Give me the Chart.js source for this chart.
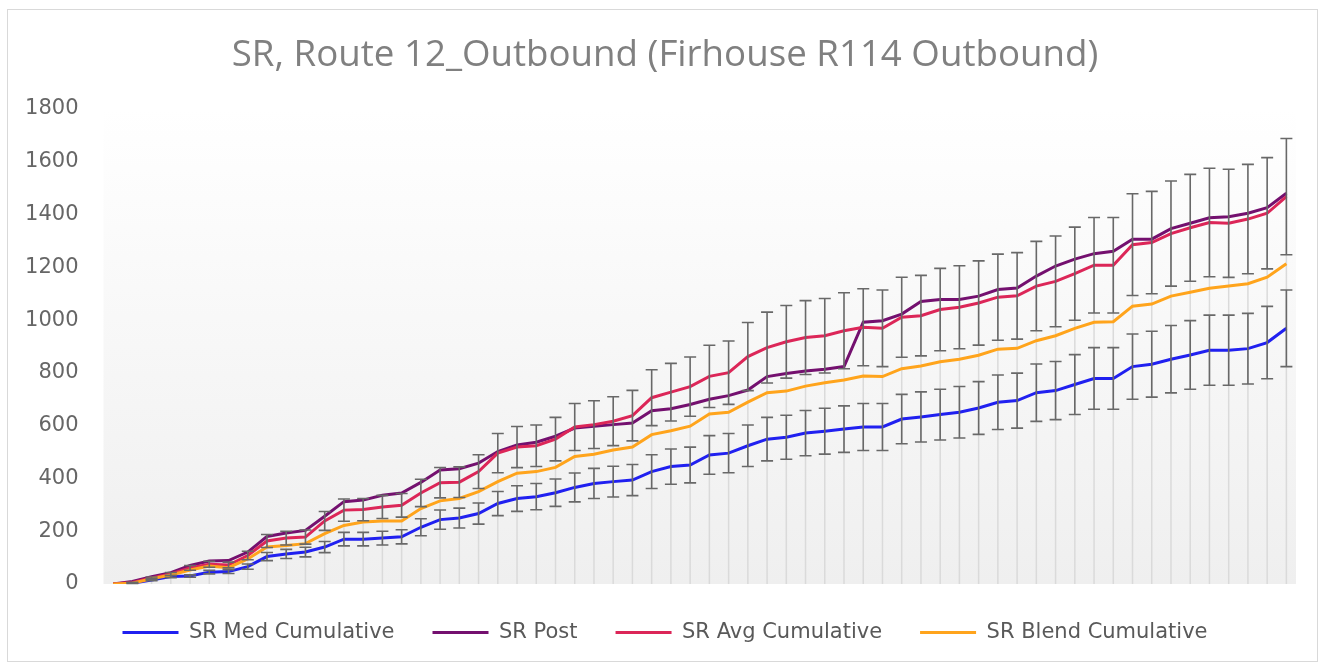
<!DOCTYPE html>
<html>
<head>
<meta charset="utf-8">
<title>SR, Route 12_Outbound</title>
<script src="https://cdn.jsdelivr.net/npm/chart.js@4.4.1/dist/chart.umd.min.js"></script>
<style>
  html, body { margin: 0; padding: 0; background: #fff; }
  #wrap { position: relative; width: 1330px; height: 668px; }
  #frame {
    position: absolute; left: 7px; top: 9px; width: 1311px; height: 653px;
    border: 1px solid #d9d9d9; box-sizing: border-box; pointer-events: none;
  }
</style>
</head>
<body>
<div id="wrap">
  <canvas id="chart" width="1330" height="668"></canvas>
  <div id="frame"></div>
</div>
<script>
// stops along the route (no labels shown on the axis)
const stops = [1, 2, 3, 4, 5, 6, 7, 8, 9, 10, 11, 12, 13, 14, 15, 16, 17, 18, 19, 20,
  21, 22, 23, 24, 25, 26, 27, 28, 29, 30, 31, 32, 33, 34, 35, 36, 37, 38, 39, 40,
  41, 42, 43, 44, 45, 46, 47, 48, 49, 50, 51, 52, 53, 54, 55, 56, 57, 58, 59, 60, 61, 62];

const medCum = [0, 3, 15, 28, 30, 45, 47, 66, 104, 114, 121, 140, 170, 170, 174, 179,
  215, 244, 250, 267, 305, 324, 331, 346, 366, 381, 388, 394, 426, 445, 451, 489,
  496, 524, 549, 556, 572, 579, 587, 595, 595, 625, 633, 642, 651, 667, 689, 695,
  725, 733, 756, 779, 779, 824, 833, 852, 868, 886, 886, 892, 915, 969];

const post = [0, 10, 28, 43, 70, 87, 89, 121, 180, 193, 203, 257, 312, 318, 336, 345,
  385, 432, 437, 458, 502, 527, 537, 560, 591, 598, 604, 610, 657, 664, 680, 700,
  714, 735, 786, 798, 807, 814, 824, 992, 998, 1023, 1071, 1078, 1078, 1091, 1116, 1122,
  1167, 1205, 1231, 1252, 1261, 1307, 1307, 1347, 1367, 1388, 1392, 1405, 1426, 1481];

const avgCum = [0, 6, 23, 38, 61, 75, 72, 108, 163, 174, 178, 239, 280, 282, 292, 298,
  345, 384, 386, 426, 496, 519, 524, 549, 595, 604, 617, 638, 706, 727, 748, 787,
  801, 862, 896, 918, 934, 941, 960, 973, 969, 1011, 1017, 1040, 1049, 1065, 1087, 1092,
  1129, 1147, 1176, 1208, 1208, 1286, 1294, 1328, 1350, 1370, 1367, 1383, 1405, 1468];

const blendCum = [0, 3, 20, 34, 53, 68, 62, 95, 140, 146, 153, 191, 222, 235, 239, 239,
  286, 315, 324, 350, 388, 420, 426, 442, 483, 492, 508, 519, 566, 581, 598, 644,
  651, 689, 725, 731, 750, 763, 773, 788, 786, 816, 826, 842, 852, 867, 890, 893,
  922, 941, 969, 992, 994, 1053, 1061, 1091, 1106, 1121, 1129, 1138, 1163, 1214];

const yTicks = [0, 200, 400, 600, 800, 1000, 1200, 1400, 1600, 1800];

// percentage error bars on the median and average series
const ERR_PCT = 0.15;

const series = [
  { label: 'SR Med Cumulative', data: medCum, color: '#2020f0', err: true },
  { label: 'SR Post', data: post, color: '#74106f', err: false },
  { label: 'SR Avg Cumulative', data: avgCum, color: '#dc2658', err: true },
  { label: 'SR Blend Cumulative', data: blendCum, color: '#ffa41c', err: false }
];

// plot background, drop lines and error bars
const plotExtras = {
  id: 'plotExtras',
  beforeDatasetsDraw(chart) {
    const { ctx, chartArea: a, scales: { x, y } } = chart;
    ctx.save();
    const g = ctx.createLinearGradient(0, a.top, 0, a.bottom);
    g.addColorStop(0, '#ffffff');
    g.addColorStop(1, '#efefef');
    ctx.fillStyle = g;
    ctx.fillRect(a.left, a.top, a.right - a.left, a.bottom - a.top);

    ctx.strokeStyle = '#dadada';
    ctx.lineWidth = 1.5;
    stops.forEach((s, i) => {
      const top = Math.max(medCum[i], post[i], avgCum[i], blendCum[i]);
      const px = x.getPixelForValue(i);
      ctx.beginPath();
      ctx.moveTo(px, y.getPixelForValue(top));
      ctx.lineTo(px, a.bottom);
      ctx.stroke();
    });
    ctx.restore();
  },
  afterDatasetsDraw(chart) {
    const { ctx, scales: { x, y } } = chart;
    ctx.save();
    ctx.strokeStyle = '#686868';
    ctx.lineWidth = 1.6;
    series.filter(s => s.err).forEach(s => {
      s.data.forEach((v, i) => {
        if (!v) return;
        const e = v * ERR_PCT;
        const px = x.getPixelForValue(i);
        const yHi = y.getPixelForValue(v + e);
        const yLo = y.getPixelForValue(v - e);
        ctx.beginPath();
        ctx.moveTo(px, yHi); ctx.lineTo(px, yLo);
        ctx.moveTo(px - 6, yHi); ctx.lineTo(px + 6, yHi);
        ctx.moveTo(px - 6, yLo); ctx.lineTo(px + 6, yLo);
        ctx.stroke();
      });
    });
    ctx.restore();
  }
};

new Chart(document.getElementById('chart'), {
  type: 'line',
  data: {
    labels: stops,
    datasets: series.map((s, i) => ({
      label: s.label,
      data: s.data,
      borderColor: s.color,
      backgroundColor: s.color,
      borderWidth: 3,
      pointRadius: 0,
      tension: 0,
      order: series.length - i
    }))
  },
  options: {
    responsive: false,
    animation: false,
    layout: { padding: { left: 0, right: 0, top: 0, bottom: 15 } },
    scales: {
      x: { display: false, offset: true },
      y: {
        min: 0,
        max: 1800,
        afterBuildTicks: s => { s.ticks = yTicks.map(v => ({ value: v })); },
        afterFit: s => { s.width = 103.5; },
        grid: { display: false, drawTicks: false },
        border: { display: false },
        ticks: {
          padding: 25,
          color: '#666666',
          font: { family: 'DejaVu Sans', size: 21 },
          callback: v => String(v)
        }
      },
      // empty right-hand gutter so the plot stops short of the frame
      gutter: {
        position: 'right',
        grid: { display: false, drawTicks: false },
        border: { display: false },
        ticks: { display: false },
        afterFit: s => { s.width = 34; }
      }
    },
    plugins: {
      title: {
        display: true,
        text: 'SR, Route 12_Outbound (Firhouse R114 Outbound)',
        color: '#808080',
        font: { family: 'Open Sans', size: 36.7, weight: 'normal' },
        padding: { top: 34, bottom: 31 }
      },
      legend: {
        position: 'bottom',
        labels: {
          boxWidth: 56,
          boxHeight: 3,
          padding: 38,
          color: '#595959',
          font: { family: 'DejaVu Sans', size: 21 },
          generateLabels: chart => series.map((s, i) => ({
            text: s.label,
            fillStyle: s.color,
            strokeStyle: s.color,
            lineWidth: 0,
            hidden: false,
            datasetIndex: i,
            fontColor: '#595959'
          }))
        }
      },
      tooltip: { enabled: false }
    }
  },
  plugins: [plotExtras]
});
</script>
</body>
</html>
